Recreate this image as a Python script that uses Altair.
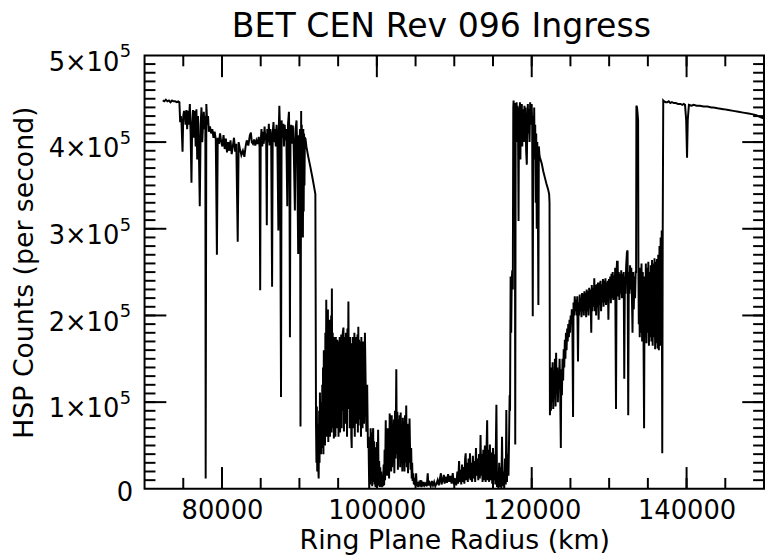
import altair as alt
import pandas as pd

TITLE = "BET CEN Rev 096 Ingress"
X_TITLE = "Ring Plane Radius (km)"
Y_TITLE = "HSP Counts (per second)"
FONT = "DejaVu Sans"

x_domain = [70000, 150000]
y_domain = [0, 500000]
x_major = [80000, 100000, 120000, 140000]
x_minor = [75000, 80000, 85000, 90000, 95000, 100000, 105000, 110000,
           115000, 120000, 125000, 130000, 135000, 140000, 145000]
y_labelled = [100000, 200000, 300000, 400000, 500000]
y_zero = [0]
y_major = [100000, 200000, 300000, 400000]
y_minor = [i * 10000 for i in range(1, 50)]

# (ring plane radius km, HSP counts in thousands per second)
flat_start = [(72350, 448), (72550, 447), (72750, 449), (72950, 447), (73150, 448),
              (73350, 446), (73550, 448), (73750, 447), (73950, 447), (74150, 446),
              (74350, 447), (74500, 446)]

inner_c = [(74600, 423), (74680, 430), (74760, 425), (74906, 389), (75000, 430),
           (75100, 436), (75210, 432), (75300, 420), (75400, 437), (75500, 415),
           (75600, 436), (75700, 420), (75850, 444), (75950, 410), (76058, 353),
           (76150, 420), (76250, 437), (76350, 405), (76490, 436), (76600, 395),
           (76700, 438), (76800, 380), (76900, 430), (77000, 400), (77130, 326),
           (77250, 420), (77350, 440), (77450, 400), (77552, 420), (77650, 435),
           (77750, 415), (77850, 430), (77893, 12), (77978, 444), (78100, 420),
           (78200, 430), (78300, 412), (78450, 418), (78600, 410), (78750, 415),
           (78900, 405), (79050, 412), (79200, 403), (79344, 270), (79450, 405),
           (79600, 398), (79750, 410), (79900, 400), (80050, 395), (80200, 408),
           (80350, 392), (80500, 404), (80650, 388), (80800, 400), (80950, 390),
           (81100, 402), (81250, 386), (81400, 395), (81550, 405), (81700, 389),
           (81850, 398), (82032, 285), (82150, 400), (82300, 393), (82500, 385),
           (82700, 390), (82890, 383), (83050, 395), (83200, 402), (83400, 396),
           (83600, 408), (83733, 411), (83850, 400), (84000, 398), (84150, 403),
           (84300, 396), (84450, 402), (84600, 398), (84750, 406), (84850, 395),
           (84933, 229)]

outer_c = [(85000, 400), (85100, 415), (85200, 395), (85300, 412), (85400, 398),
           (85500, 418), (85600, 402), (85700, 410), (85788, 304), (85850, 415),
           (85950, 400), (86050, 421), (86150, 396), (86250, 415), (86350, 405),
           (86471, 233), (86550, 410), (86650, 423), (86750, 400), (86850, 415),
           (86950, 395), (87050, 420), (87150, 405), (87281, 298), (87350, 420),
           (87409, 442), (87500, 410), (87623, 106), (87700, 425), (87800, 405),
           (87921, 421), (88000, 395), (88100, 420), (88200, 402), (88300, 415),
           (88433, 326), (88520, 420), (88647, 435), (88700, 405), (88775, 175),
           (88850, 412), (88950, 420), (89050, 398), (89150, 419), (89250, 400),
           (89415, 321), (89500, 415), (89628, 425), (89700, 395), (89842, 271),
           (89920, 408), (90000, 395), (90080, 415), (90140, 72), (90224, 436),
           (90250, 300), (90300, 420), (90350, 330), (90400, 410), (90450, 290),
           (90500, 415), (90550, 320), (90600, 410), (90650, 350), (90700, 405),
           (90779, 404), (90900, 395), (91100, 385), (91400, 372), (91700, 358),
           (91900, 348), (92059, 340), (92144, 73)]

noisy_band = [(92200, 30), (92250, 95), (92300, 20), (92350, 75), (92400, 35),
              (92486, 12), (92550, 90), (92600, 30), (92650, 111), (92700, 45),
              (92750, 95), (92800, 40), (92850, 100), (92900, 47), (92950, 120),
              (93000, 55), (93050, 140), (93100, 40), (93150, 160), (93200, 60),
              (93250, 145), (93300, 50), (93350, 180), (93400, 70), (93467, 218),
              (93520, 60), (93570, 175), (93620, 104), (93680, 207), (93730, 54),
              (93790, 176), (93850, 80), (93900, 195), (93950, 60), (94000, 170),
              (94050, 90), (94100, 200), (94150, 65), (94192, 231), (94250, 70),
              (94300, 180), (94350, 85), (94400, 172), (94450, 58), (94500, 175),
              (94550, 100), (94600, 168), (94650, 60), (94700, 175), (94750, 85),
              (94800, 165), (94850, 70), (94900, 172), (94950, 95), (95000, 161),
              (95050, 60), (95100, 170), (95150, 80), (95200, 175), (95250, 65),
              (95300, 165), (95350, 100), (95400, 178), (95450, 70), (95500, 170),
              (95550, 90), (95600, 180), (95686, 186), (95750, 66), (95800, 165),
              (95850, 123), (95900, 175), (95950, 75), (96000, 180), (96050, 95),
              (96100, 170), (96150, 60), (96200, 185), (96250, 92), (96326, 216),
              (96400, 92), (96450, 172), (96500, 70), (96550, 175), (96600, 85),
              (96650, 168), (96700, 60), (96753, 47), (96800, 168), (96850, 104),
              (96900, 175), (96950, 70), (97000, 170), (97050, 95), (97100, 180),
              (97150, 60), (97200, 165), (97250, 90), (97300, 175), (97350, 75),
              (97400, 160), (97450, 100), (97500, 178), (97550, 65), (97606, 187),
              (97650, 73), (97700, 172), (97750, 96), (97800, 170), (97850, 80),
              (97900, 168), (97950, 60), (98000, 175), (98050, 100), (98100, 160),
              (98150, 70), (98200, 170), (98250, 90), (98300, 165), (98350, 75),
              (98459, 180), (98550, 123), (98650, 66), (98750, 120), (98850, 47),
              (98920, 60), (99014, 0)]

gap_region = [(99080, 40), (99130, 5), (99200, 70), (99260, 10), (99330, 65),
              (99400, 3), (99470, 62), (99526, 70), (99580, 8), (99640, 55),
              (99700, 5), (99760, 48), (99820, 2), (99880, 40), (99940, 5),
              (100000, 54), (100060, 3), (100120, 35), (100166, 68), (100230, 4),
              (100300, 32), (100370, 2), (100440, 25), (100500, 3), (100560, 20),
              (100640, 2), (100720, 15), (100800, 3), (100880, 28), (100940, 4),
              (101000, 45), (101060, 10), (101148, 79), (101200, 20), (101260, 62),
              (101320, 15), (101400, 70), (101460, 25), (101520, 60), (101580, 12),
              (101660, 87), (101720, 30), (101790, 70), (101850, 20), (101920, 85),
              (101980, 25), (102050, 75), (102120, 30), (102200, 80), (102260, 18),
              (102340, 90), (102420, 35), (102512, 138), (102580, 40), (102650, 89),
              (102720, 22), (102800, 80), (102870, 35), (102940, 85), (103010, 25),
              (103080, 88), (103150, 30), (103220, 75), (103290, 20), (103360, 82),
              (103430, 35), (103500, 78), (103570, 20), (103640, 85), (103720, 30),
              (103793, 96), (103870, 25), (103950, 75), (104030, 18), (104100, 70),
              (104160, 30), (104220, 81), (104300, 40), (104370, 22), (104433, 47),
              (104500, 12), (104560, 30), (104620, 9), (104700, 18), (104780, 5),
              (104850, 12), (104950, 4)]

low_region = [(105073, 18), (105150, 3), (105250, 8), (105350, 2), (105450, 6),
              (105550, 3), (105650, 10), (105750, 2), (105850, 6), (105950, 3),
              (106050, 8), (106150, 4), (106300, 6), (106450, 3), (106570, 18),
              (106650, 4), (106800, 7), (106950, 3), (107100, 9), (107250, 4),
              (107400, 8), (107550, 3), (107700, 6), (107850, 10), (108000, 4),
              (108150, 12), (108273, 18), (108350, 5), (108500, 10), (108650, 16),
              (108750, 6), (108900, 14), (109050, 7), (109200, 17), (109350, 8),
              (109500, 15), (109650, 6), (109800, 18), (109950, 5), (110100, 12),
              (110250, 4), (110400, 20), (110500, 6), (110619, 32), (110700, 8),
              (110800, 22), (110900, 5), (111000, 28), (111100, 8), (111200, 25),
              (111300, 6), (111400, 35), (111472, 41), (111550, 10), (111650, 30),
              (111750, 8), (111850, 35), (111950, 12), (112027, 41), (112100, 10),
              (112200, 30), (112300, 8), (112400, 38), (112500, 12), (112600, 32),
              (112700, 8), (112800, 47), (112900, 15), (113000, 35), (113100, 10),
              (113200, 40), (113300, 12), (113392, 62), (113470, 15), (113550, 40),
              (113650, 8), (113750, 45), (113850, 10), (113950, 50), (114050, 8),
              (114150, 40), (114246, 79), (114320, 10), (114400, 45), (114500, 8),
              (114600, 51), (114700, 10), (114800, 42), (114900, 6), (115000, 47),
              (115100, 10), (115200, 40), (115300, 5), (115440, 97), (115520, 2),
              (115600, 20), (115700, 0), (115800, 30), (115900, 2), (116000, 25),
              (116080, 0), (116166, 60), (116250, 3), (116350, 20), (116450, 0),
              (116550, 35), (116650, 5), (116720, 91), (116800, 8), (116900, 40),
              (117000, 15), (117080, 60), (117147, 108), (117200, 90), (117275, 245),
              (117350, 180), (117420, 240), (117489, 252), (117560, 230), (117620, 440),
              (117659, 448)]

b_ring = [(117700, 440), (117760, 420), (117820, 445), (117873, 51), (117930, 445),
          (117990, 430), (118050, 446), (118110, 400), (118170, 442), (118230, 420),
          (118299, 309), (118360, 440), (118420, 420), (118480, 446), (118540, 380),
          (118600, 440), (118660, 410), (118720, 444), (118780, 395), (118850, 438),
          (118939, 435), (119000, 400), (119060, 442), (119130, 410), (119200, 440),
          (119280, 390), (119366, 374), (119430, 420), (119500, 444), (119570, 410),
          (119640, 438), (119720, 400), (119800, 446), (119870, 420), (119940, 440),
          (119997, 444), (120060, 420), (120134, 199), (120200, 430), (120260, 400),
          (120320, 440), (120380, 380), (120450, 420), (120520, 330), (120580, 410),
          (120650, 300), (120720, 400), (120790, 340), (120860, 212), (120920, 395),
          (121000, 385), (121073, 382), (121300, 375), (121500, 366), (121700, 359),
          (121900, 352), (122100, 346), (122250, 340), (122300, 330), (122353, 85)]

a_ring = [(122420, 110), (122480, 90), (122550, 140), (122620, 100), (122700, 146),
          (122780, 92), (122850, 130), (122920, 104), (123000, 150), (123080, 95),
          (123150, 157), (123220, 110), (123300, 140), (123380, 100), (123450, 135),
          (123530, 120), (123600, 150), (123680, 110), (123761, 47), (123820, 138),
          (123900, 108), (123980, 150), (124060, 125), (124130, 161), (124200, 140),
          (124280, 172), (124350, 150), (124420, 180), (124500, 160), (124580, 185),
          (124650, 170), (124720, 190), (124800, 175), (124880, 195), (124950, 180),
          (125030, 200), (125100, 190), (125180, 207), (125250, 195), (125338, 83),
          (125400, 215), (125480, 200), (125560, 222), (125640, 205), (125720, 218),
          (125800, 200), (125880, 222), (125978, 147), (126050, 215), (126120, 200),
          (126200, 224), (126280, 205), (126350, 220), (126430, 198), (126500, 226),
          (126580, 205), (126650, 225), (126730, 200), (126800, 228), (126880, 208),
          (126950, 226), (127030, 198), (127100, 230), (127180, 205), (127260, 228),
          (127340, 200), (127420, 232), (127500, 208), (127590, 230), (127690, 180),
          (127760, 235), (127840, 205), (127920, 232), (128000, 210), (128080, 243),
          (128160, 205), (128240, 235), (128320, 200), (128400, 236), (128480, 210),
          (128560, 238), (128640, 195), (128720, 238), (128800, 212), (128880, 240),
          (128960, 205), (129040, 236), (129120, 215), (129200, 242), (129280, 210),
          (129360, 240), (129440, 215), (129520, 243), (129600, 212), (129680, 238),
          (129760, 218), (129830, 240), (129904, 195), (129980, 242), (130060, 220),
          (130140, 245), (130220, 214), (130300, 248), (130380, 220), (130460, 250),
          (130540, 218), (130620, 246), (130700, 222), (130780, 255), (130885, 92),
          (130960, 250), (131013, 262), (131099, 262), (131160, 222), (131240, 250),
          (131320, 218), (131400, 248), (131480, 225), (131560, 252), (131640, 220),
          (131720, 248), (131800, 228), (131880, 250), (131952, 127), (132030, 245),
          (132110, 225), (132200, 258), (132300, 273), (132379, 275), (132464, 85),
          (132540, 250), (132620, 225), (132700, 258), (132780, 230), (132860, 255),
          (132940, 222), (133019, 180), (133100, 250), (133180, 207), (133260, 245),
          (133350, 220), (133420, 250), (133480, 250), (133520, 442), (133600, 440),
          (133680, 432), (133740, 425), (133780, 256), (133830, 190), (133872, 250),
          (133950, 175), (134030, 255), (134100, 180), (134180, 260), (134260, 170),
          (134340, 250), (134420, 200), (134512, 70), (134580, 245), (134660, 175),
          (134740, 260), (134820, 168), (134900, 255), (134980, 180), (135060, 262),
          (135140, 165), (135220, 250), (135300, 175), (135380, 258), (135460, 170),
          (135540, 264), (135620, 165), (135700, 260), (135780, 175), (135860, 266),
          (135940, 161), (136020, 262), (136100, 168), (136180, 265), (136260, 162),
          (136340, 270), (136420, 160), (136500, 280), (136580, 165), (136650, 290),
          (136720, 170), (136790, 298), (136859, 41), (136920, 300)]

outer_sky = [(136987, 448), (137100, 447), (137300, 446), (137499, 446), (137700, 447),
             (137900, 445), (138100, 446), (138353, 445), (138600, 445), (138900, 444),
             (139206, 444), (139450, 443), (139633, 444), (139800, 443), (139950, 425),
             (140060, 382), (140150, 425), (140300, 443), (140650, 442), (140913, 443),
             (141300, 442), (141700, 442), (142193, 441), (142700, 441), (143200, 440),
             (143473, 440), (144000, 439), (144753, 438), (145400, 437), (146033, 436),
             (146700, 435), (147313, 434), (148000, 433), (148594, 432), (149000, 431),
             (149447, 429), (150000, 427)]

segments = [flat_start, inner_c, outer_c, noisy_band, gap_region, low_region,
            b_ring, a_ring, outer_sky]
rows = [pt for seg in segments for pt in seg]
df = pd.DataFrame(rows, columns=["radius", "counts_k"])
df["counts"] = df["counts_k"] * 1000
df["order"] = list(range(len(df)))

frame_df = pd.DataFrame({"radius": x_domain, "counts": y_domain})

W, H = 626, 438
MAJOR, MINOR = 22, 11


def xs():
    return alt.Scale(domain=x_domain, nice=False, zero=False)


def ys():
    return alt.Scale(domain=y_domain, nice=False, zero=False)


def label_axis(values, expr, size, padding, loff):
    return alt.Axis(orient="left", values=values, labelExpr=expr, ticks=False,
                    domain=False, grid=False, labelFont=FONT, labelFontSize=size,
                    labelColor="black", labelPadding=padding, labelOffset=loff,
                    labelBaseline="middle", labelAlign="right", labelOverlap=False,
                    labelFlush=False)


line = alt.Chart(df).mark_line(color="black", strokeWidth=2, clip=True).encode(
    x=alt.X("radius:Q", scale=xs(), title=X_TITLE,
            axis=alt.Axis(orient="bottom", values=x_major, format="d", ticks=False,
                          domain=False, grid=False, labelFont=FONT, labelFontSize=26,
                          labelColor="black", labelPadding=9, labelFlush=False,
                          labelOverlap=False, titleFont=FONT, titleFontSize=27,
                          titleFontWeight="normal", titleColor="black", titleX=313,
                          titleY=60, titleAlign="center", titleBaseline="alphabetic")),
    y=alt.Y("counts:Q", scale=ys(), title=Y_TITLE,
            axis=alt.Axis(orient="left", values=y_labelled,
                          labelExpr="datum.value / 100000 + '×10'", ticks=False,
                          domain=False, grid=False, labelFont=FONT, labelFontSize=26,
                          labelColor="black", labelPadding=26, labelOffset=7,
                          labelBaseline="middle", labelAlign="right",
                          labelOverlap=False, labelFlush=False, titleFont=FONT,
                          titleFontSize=27, titleFontWeight="normal",
                          titleColor="black", titleAngle=270, titleX=-113, titleY=219,
                          titleAlign="center", titleBaseline="alphabetic")),
    order="order:Q",
)


def label_layer(y_axis):
    return alt.Chart(frame_df).mark_point(opacity=0).encode(
        x=alt.X("radius:Q", scale=xs(), axis=None),
        y=alt.Y("counts:Q", scale=ys(), title=None, axis=y_axis),
    )


def x_ticks(values, y_from, y_to):
    return alt.Chart(pd.DataFrame({"v": values})).mark_rule(
        color="black", strokeWidth=2
    ).encode(
        x=alt.X("v:Q", scale=xs(), axis=None),
        y=alt.value(y_from),
        y2=alt.value(y_to),
    )


def y_ticks(values, x_from, x_to):
    return alt.Chart(pd.DataFrame({"v": values})).mark_rule(
        color="black", strokeWidth=2
    ).encode(
        y=alt.Y("v:Q", scale=ys(), axis=None),
        x=alt.value(x_from),
        x2=alt.value(x_to),
    )


layers = [
    line,
    label_layer(label_axis(y_labelled, "'5'", 18, 14, -3.5)),
    label_layer(label_axis(y_zero, "'0'", 26, 12, 4)),
    x_ticks(x_minor, H, H - MINOR),
    x_ticks(x_major, H, H - MAJOR),
    x_ticks(x_minor, 0, MINOR),
    x_ticks(x_major, 0, MAJOR),
    y_ticks(y_minor, 0, MINOR),
    y_ticks(y_major, 0, MAJOR),
    y_ticks(y_minor, W, W - MINOR),
    y_ticks(y_major, W, W - MAJOR),
]

chart = alt.layer(*layers).resolve_axis(
    x="independent", y="independent"
).properties(
    width=W,
    height=H,
    title=alt.TitleParams(TITLE, font=FONT, fontSize=33.5, fontWeight="normal",
                          color="black", anchor="middle", baseline="alphabetic",
                          offset=-27, dx=-13),
    autosize=alt.AutoSizeParams(type="none"),
    padding={"left": 138, "top": 45, "right": 1, "bottom": 67},
    background="white",
).configure_view(stroke="black", strokeWidth=2)

chart.save("out.html", embed_options={"renderer": "svg", "actions": False})
